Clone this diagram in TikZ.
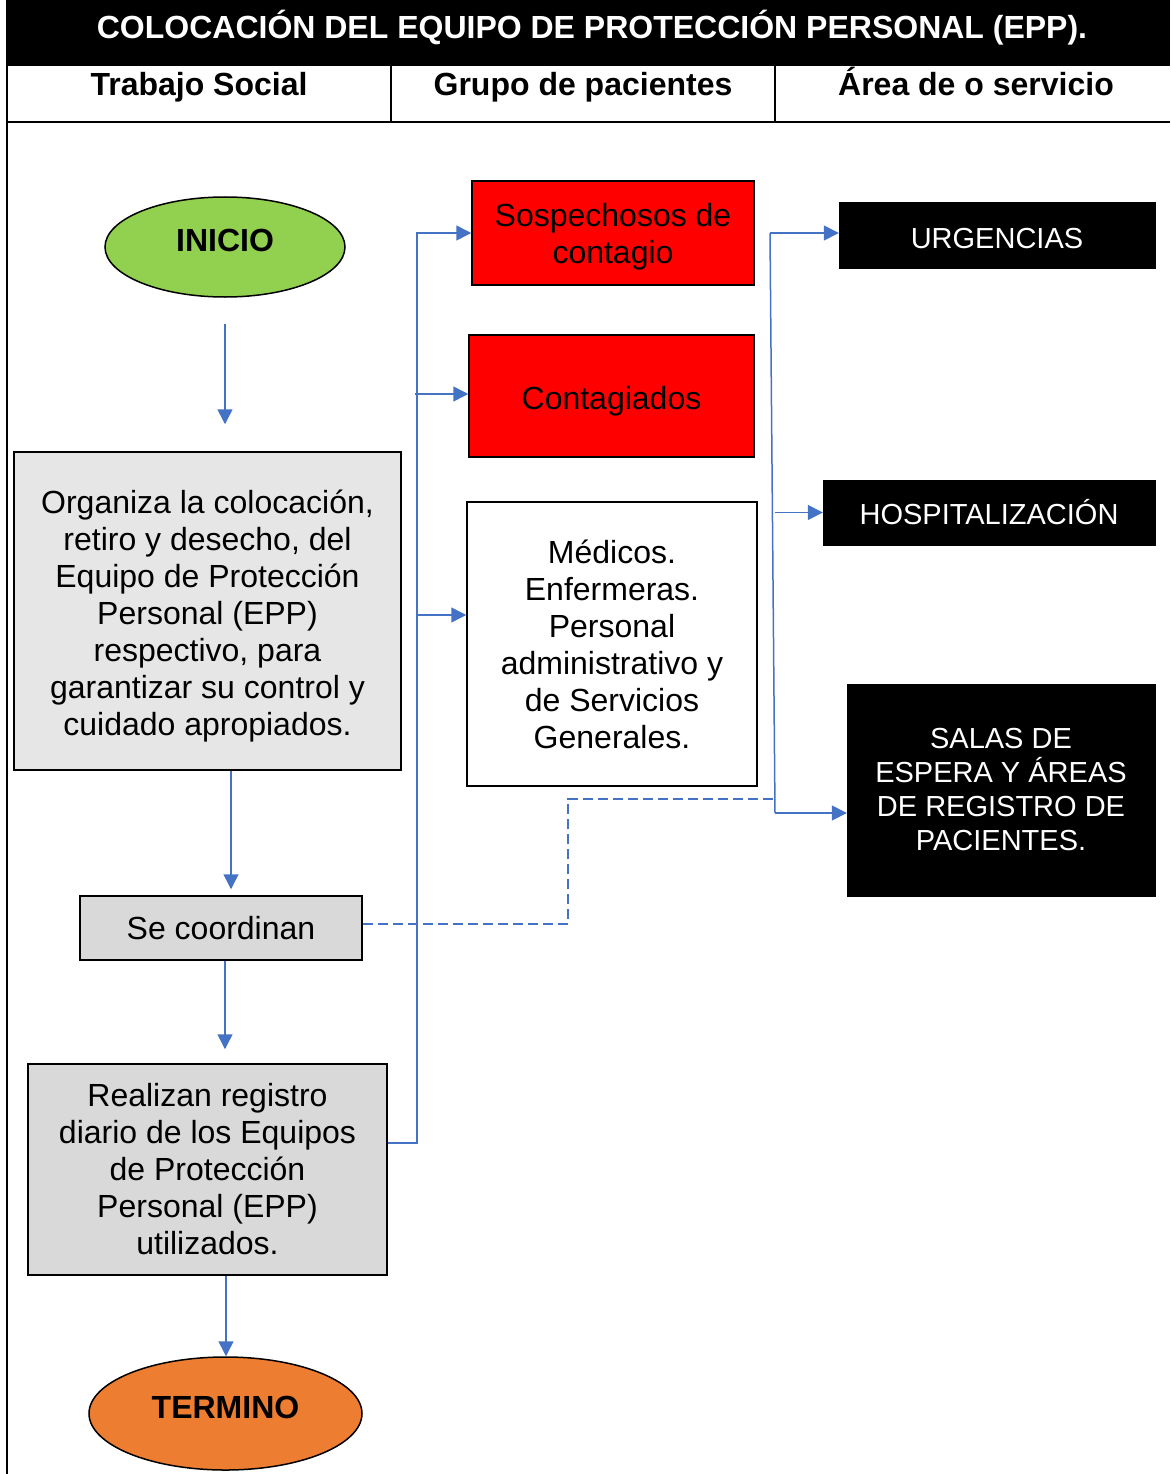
\documentclass[tikz,border=0pt]{standalone}
\usepackage{fontspec}
\setmainfont{Liberation Sans}
\usetikzlibrary{arrows.meta,shapes.geometric}
\definecolor{linkblue}{HTML}{4472C4}
\definecolor{startgreen}{HTML}{92D050}
\definecolor{endorange}{HTML}{ED7D31}
\definecolor{alertred}{HTML}{FF0000}
\definecolor{panelgray}{HTML}{E7E6E6}
\definecolor{stepgray}{HTML}{D9D9D9}
\begin{document}
\begin{tikzpicture}[x=1pt,y=-1pt,
  txt/.style={font=\fontsize{32}{37}\selectfont},
  boxnode/.style={draw=black, line width=1.5pt, inner sep=0pt, align=center, txt},
  darkbox/.style={fill=black, draw=black, inner sep=0pt, align=center, text=white,
    font=\fontsize{29}{34}\selectfont},
  oval/.style={ellipse, draw=black, line width=1.5pt, inner sep=0pt,
    font=\fontsize{32}{37}\selectfont\bfseries},
  link/.style={draw=linkblue, line width=1.5pt, -{Triangle[length=15pt,width=15pt]}},
  plainlink/.style={draw=linkblue, line width=1.5pt},
  dashlink/.style={draw=linkblue, line width=1.5pt, dash pattern=on 10pt off 5pt},
  headtxt/.style={anchor=base, font=\fontsize{32}{37}\selectfont\bfseries}]
\useasboundingbox (0,0) rectangle (1170,1474);

% table frame and header
\fill[black] (7,0) rectangle (1170,66);
\draw[line width=2.5pt] (7,0) -- (7,1474);
\draw[line width=2pt] (7,122) -- (1170,122);
\draw[line width=1.5pt] (391,66) -- (391,122);
\draw[line width=1.5pt] (775,66) -- (775,122);
\node[headtxt, text=white] (title) at (592,38.5) {COLOCACIÓN DEL EQUIPO DE PROTECCIÓN PERSONAL (EPP).};
\node[headtxt] (h1) at (199,95.5) {Trabajo Social};
\node[headtxt] (h2) at (583,95.5) {Grupo de pacientes};
\node[headtxt] (h3) at (976,95.5) {Área de o servicio};

% first column
\node[oval, fill=startgreen, minimum width=240pt, minimum height=100pt, text depth=14pt] (inicio) at (225,247) {INICIO};
\node[boxnode, fill=panelgray, minimum width=387pt, minimum height=318pt, text height=256pt] (org) at (207.5,611)
  {Organiza la colocación,\\retiro y desecho, del\\Equipo de Protección\\Personal (EPP)\\respectivo, para\\garantizar su control y\\cuidado apropiados.};
\node[boxnode, fill=stepgray, minimum width=282pt, minimum height=64pt] (coord) at (221,928) {Se coordinan};
\node[boxnode, fill=stepgray, minimum width=359pt, minimum height=211pt] (reg) at (207.5,1169.5)
  {Realizan registro\\diario de los Equipos\\de Protección\\Personal (EPP)\\utilizados.};
\node[oval, fill=endorange, minimum width=273pt, minimum height=113pt, text depth=12pt] (termino) at (225.5,1413.5) {TERMINO};

% second column
\node[boxnode, fill=alertred, minimum width=282pt, minimum height=104pt, text height=67.5pt] (sosp) at (613,233) {Sospechosos de\\contagio};
\node[boxnode, fill=alertred, minimum width=285pt, minimum height=122pt, text height=33.5pt, text depth=6.7pt] (cont) at (611.5,396) {Contagiados};
\node[boxnode, fill=white, minimum width=290pt, minimum height=284pt] (med) at (612,644)
  {Médicos.\\Enfermeras.\\Personal\\administrativo y\\de Servicios\\Generales.};

% third column
\node[darkbox, minimum width=316pt, minimum height=66pt, text height=27pt, text depth=0pt] (urg) at (997,235) {URGENCIAS};
\node[darkbox, minimum width=332pt, minimum height=65pt] (hosp) at (989,512.5) {HOSPITALIZACIÓN};
\node[darkbox, minimum width=308pt, minimum height=212pt] (salas) at (1001,790)
  {SALAS DE\\ESPERA Y ÁREAS\\DE REGISTRO DE\\PACIENTES.};

% main sequence
\draw[link, shorten <=26pt, shorten >=27pt] (inicio.south) -- (inicio.south |- org.north);
\draw[link, shorten >=6pt] ([xshift=23.5pt]org.south) -- ([xshift=10pt]coord.north);
\draw[link, shorten >=14pt] ([xshift=4pt]coord.south) -- ([xshift=17.5pt]reg.north);
\draw[link] ([xshift=0.5pt]reg.south -| termino.north) -- ([xshift=0.5pt]termino.north);

% branch to patient groups
\coordinate (busL) at (417,233);
\coordinate (medIn) at ([yshift=29pt]med.west);
\coordinate (contIn) at ([yshift=2pt]cont.west);
\draw[link] ([yshift=26.5pt]reg.east) -| (busL) -- (sosp.west);
\draw[link] ([xshift=-2pt]contIn -| busL) -- (contIn);
\draw[link] (medIn -| busL) -- (medIn);

% branch to service areas
\coordinate (busRtop) at (770,233);
\coordinate (busRbot) at (775,813);
\draw[plainlink] (busRtop) -- (busRbot);
\draw[link] (busRtop) -- (busRtop -| urg.west);
\draw[link] (hosp.west -| busRbot) -- (hosp.west);
\draw[link] (busRbot) -- (busRbot -| salas.west);

% coordination link
\coordinate (dk) at (568,799);
\draw[dashlink] ([yshift=4pt]coord.east) -| (dk) -- (dk -| busRbot);
\end{tikzpicture}
\end{document}
